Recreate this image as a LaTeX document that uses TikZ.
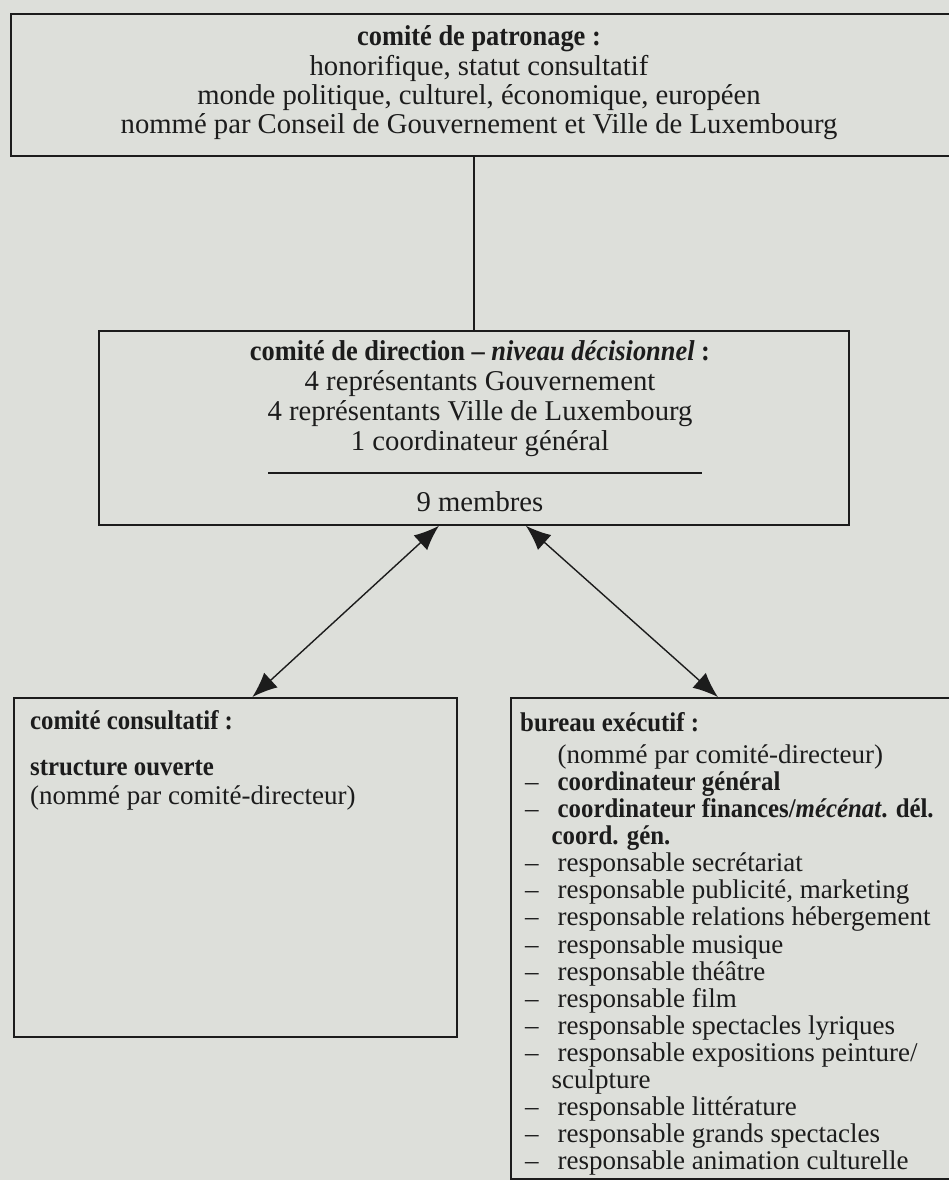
\documentclass[tikz,border=0pt]{standalone}
\usepackage{fontspec}
\setmainfont{Liberation Serif}[BoldFeatures={FakeStretch=0.92},
                               BoldItalicFeatures={FakeStretch=0.92}]
\usepackage{xcolor}
\definecolor{paper}{RGB}{221,223,218}
\definecolor{ink}{RGB}{28,28,28}
\usepackage{tikz}
\usetikzlibrary{arrows.meta,calc,positioning}
\tikzset{
    orgbox/.style   = {rectangle, draw=ink, line width=1.8pt, inner sep=0pt,
                       anchor=north west},
    boxtext/.style  = {text=ink, inner sep=0pt,
                       font=\fontsize{28.7}{29.3}\selectfont},
    listtext/.style = {text=ink, inner sep=0pt, anchor=north west},
    link/.style     = {draw=ink, line width=1.4pt},
    twoway/.style   = {{Latex[length=25pt,width=20pt]}-{Latex[length=25pt,width=20pt]},
                       draw=ink, line width=1.4pt}
}

\begin{document}
\begin{tikzpicture}[x=1pt, y=-1pt]

\fill[paper] (0,0) rectangle (949,1180);
\useasboundingbox (0,0) rectangle (949,1180);

% ===== comité de patronage =====
\node[orgbox, minimum width=950pt, minimum height=142pt] (patron) at (10,13) {};
\node[boxtext, align=center] (patrontext) at (479,83)
   {\textbf{comité de patronage :}\\
    honorifique, statut consultatif\\
    monde politique, culturel, économique, européen\\
    nommé par Conseil de Gouvernement et Ville de Luxembourg};

% ===== comité de direction =====
\node[orgbox, minimum width=750pt, minimum height=194pt] (direction) at (98,330) {};
\node[boxtext, align=center, font=\fontsize{28.7}{30}\selectfont] (dirtext) at (480,399)
   {\textbf{comité de direction -- \textit{niveau décisionnel} :}\\
    4 représentants Gouvernement\\
    4 représentants Ville de Luxembourg\\
    1 coordinateur général};
\coordinate (sepL) at (268,473);
\coordinate (sepR) at (702,473);
\draw[link] (sepL) -- (sepR);
\node[boxtext] (membres) at (480,502) {9 membres};

\draw[link] (direction.north) -- (direction.north |- patron.south);

% ===== comité consultatif =====
\node[orgbox, minimum width=443pt, minimum height=339pt] (consult) at (13,697) {};
\node[listtext, font=\fontsize{27}{29}\selectfont] (consulttext) at (30,709)
   {\begin{tabular}{@{}l@{}}
    \textbf{comité consultatif :}\\[17pt]
    \textbf{structure ouverte}\\
    (nommé par comité-directeur)
    \end{tabular}};

% ===== bureau exécutif =====
\node[orgbox, minimum width=450pt, minimum height=481pt] (bureau) at (510,697) {};
\node[listtext, font=\fontsize{27}{27.1}\selectfont] (bureautext) at (520,712)
   {\begin{tabular}{@{\hspace{5pt}}l@{\hspace{19pt}}l@{}}
    \multicolumn{2}{@{}l@{}}{\textbf{bureau exécutif :}}\\[5pt]
     & (nommé par comité-directeur)\\
    -- & \textbf{coordinateur général}\\
    -- & \textbf{coordinateur finances/\textit{mécénat}. dél.}\\
     & \hspace{-6pt}\textbf{coord. gén.}\\
    -- & responsable secrétariat\\
    -- & responsable publicité, marketing\\
    -- & responsable relations hébergement\\
    -- & responsable musique\\
    -- & responsable théâtre\\
    -- & responsable film\\
    -- & responsable spectacles lyriques\\
    -- & responsable expositions peinture/\\
     & \hspace{-6pt}sculpture\\
    -- & responsable littérature\\
    -- & responsable grands spectacles\\
    -- & responsable animation culturelle
    \end{tabular}};

% ===== arrows direction <-> lower boxes =====
\coordinate (dirL) at ([xshift=-35pt]direction.south);
\coordinate (dirR) at ([xshift=52pt]direction.south);
\coordinate (consultTop) at ([xshift=17pt]consult.north);
\coordinate (bureauTop) at ([xshift=-18pt]bureau.north);
\draw[twoway] (dirL) -- (consultTop);
\draw[twoway] (dirR) -- (bureauTop);

\end{tikzpicture}
\end{document}
